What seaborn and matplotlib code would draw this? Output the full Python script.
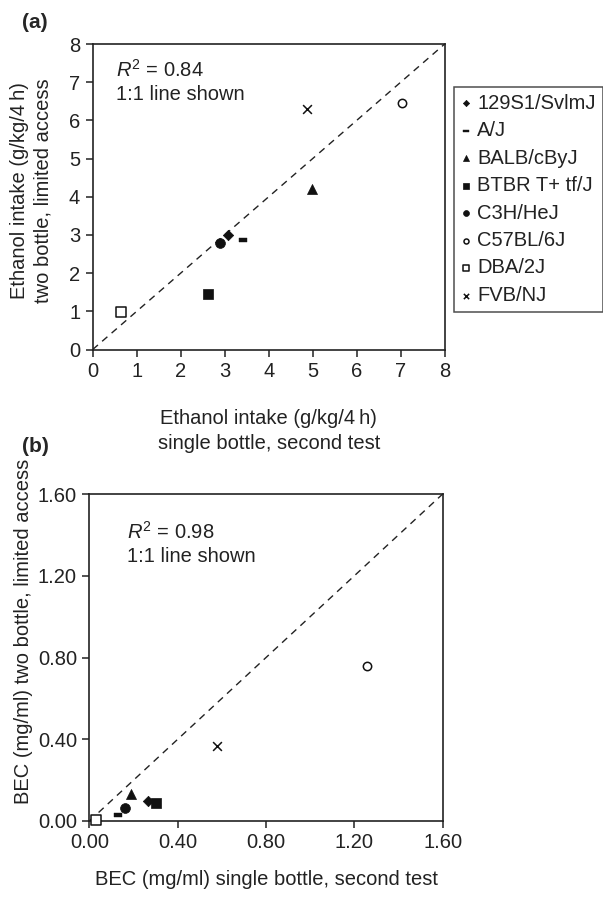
import matplotlib
matplotlib.use("Agg")
import matplotlib.pyplot as plt
import seaborn as sns
import pandas as pd
import numpy as np

# ---------------- data ----------------
strains = ["129S1/SvlmJ", "A/J", "BALB/cByJ", "BTBR T+ tf/J",
           "C3H/HeJ", "C57BL/6J", "DBA/2J", "FVB/NJ"]
# panel (a): ethanol intake (g/kg/4 h)
intake_single = [3.07, 3.42, 4.98, 2.62, 2.89, 7.02, 0.65, 4.86]
intake_two = [3.00, 2.87, 4.20, 1.45, 2.80, 6.46, 0.97, 6.30]
# panel (b): BEC (mg/ml)
bec_single = [0.264, 0.13, 0.19, 0.30, 0.163, 1.257, 0.03, 0.577]
bec_two = [0.098, 0.03, 0.13, 0.087, 0.065, 0.76, 0.005, 0.367]

ticks_a = [0, 1, 2, 3, 4, 5, 6, 7, 8]
ticks_b = [0.0, 0.4, 0.8, 1.2, 1.6]
r2_a = "0.84"
r2_b = "0.98"

# ---------------- style ----------------
sns.set_theme(style="ticks")
plt.rcParams['font.family'] = ['Liberation Sans', 'DejaVu Sans']
plt.rcParams['mathtext.fontset'] = 'custom'
plt.rcParams['mathtext.rm'] = 'Liberation Sans'
plt.rcParams['mathtext.it'] = 'Liberation Sans:italic'
plt.rcParams['axes.edgecolor'] = '#222222'
FS = 14.5

dash_marker = [(-1, -0.38), (1, -0.38), (1, 0.38), (-1, 0.38), (-1, -0.38)]
marker_style = {
    "129S1/SvlmJ": dict(marker="D", s=28, color="#111111", edgecolor="#111111", linewidth=0.5),
    "A/J": dict(marker=dash_marker, s=40, color="#111111", edgecolor="#111111", linewidth=0.3),
    "BALB/cByJ": dict(marker="^", s=52, color="#111111", edgecolor="#111111", linewidth=0.5),
    "BTBR T+ tf/J": dict(marker="s", s=44, color="#111111", edgecolor="#111111", linewidth=0.5),
    "C3H/HeJ": dict(marker="o", s=50, color="#111111", edgecolor="#111111", linewidth=0.5),
    "C57BL/6J": dict(marker="o", s=36, color="white", edgecolor="#111111", linewidth=1.1),
    "DBA/2J": dict(marker="s", s=44, color="white", edgecolor="#111111", linewidth=1.1),
    "FVB/NJ": dict(marker="x", s=40, color="#111111", linewidth=1.1),
}

df_a = pd.DataFrame({"strain": strains, "x": intake_single, "y": intake_two})
df_b = pd.DataFrame({"strain": strains, "x": bec_single, "y": bec_two})

W, H = 603, 900
fig = plt.figure(figsize=(W / 100, H / 100), dpi=100)
ax1 = fig.add_axes([92.7 / W, 1 - 349.5 / H, 352 / W, 305.5 / H])
ax2 = fig.add_axes([89.4 / W, 1 - 821 / H, 353.3 / W, 327 / H])


def draw(ax, df, lim):
    ax.plot([0, lim], [0, lim], linestyle=(0, (5, 4)), color="#222222", lw=1.0, zorder=1)
    for s in strains:
        sub = df[df["strain"] == s]
        sns.scatterplot(data=sub, x="x", y="y", ax=ax, label=s, zorder=3,
                        legend=False, clip_on=False, **marker_style[s])
    ax.set_xlim(0, lim)
    ax.set_ylim(0, lim)
    for sp in ax.spines.values():
        sp.set_visible(True)
        sp.set_linewidth(1.2)
    ax.tick_params(direction="out", length=5, width=1.1, labelsize=FS,
                   colors="#222222", pad=4)


draw(ax1, df_a, 8)
draw(ax2, df_b, 1.6)

ax1.set_xticks(ticks_a)
ax1.set_yticks(ticks_a)
ax1.set_xticklabels([str(t) for t in ticks_a])
ax1.set_yticklabels([str(t) for t in ticks_a])
ax2.set_xticks(ticks_b)
ax2.set_yticks(ticks_b)
ax2.set_xticklabels([f"{t:.2f}" for t in ticks_b])
ax2.set_yticklabels([f"{t:.2f}" for t in ticks_b])

ax1.set_xlabel("Ethanol intake (g/kg/4\u2009h)\nsingle bottle, second test",
               fontsize=FS, color="#222222", linespacing=1.38)
ax1.set_ylabel("Ethanol intake (g/kg/4\u2009h)\ntwo bottle, limited access",
               fontsize=FS, color="#222222", linespacing=1.3)
ax1.xaxis.set_label_coords(0.5, -0.195)
ax1.yaxis.set_label_coords(-0.115, 0.52)

ax2.set_xlabel("BEC (mg/ml) single bottle, second test", fontsize=FS, color="#222222")
ax2.set_ylabel("BEC (mg/ml) two bottle, limited access", fontsize=FS, color="#222222")
ax2.xaxis.set_label_coords(0.5, -0.15)
ax2.yaxis.set_label_coords(-0.16, 0.58)

ax1.text(116 / W, 1 - 70 / H, r"$R^2$ = " + r2_a, transform=fig.transFigure,
         fontsize=FS, va="center", ha="left", color="#222222")
ax1.text(116 / W, 1 - 95 / H, "1:1 line shown", transform=fig.transFigure,
         fontsize=FS, va="center", ha="left", color="#222222")
ax2.text(126.7 / W, 1 - 531.7 / H, r"$R^2$ = " + r2_b, transform=fig.transFigure,
         fontsize=FS, va="center", ha="left", color="#222222")
ax2.text(126.7 / W, 1 - 556.7 / H, "1:1 line shown", transform=fig.transFigure,
         fontsize=FS, va="center", ha="left", color="#222222")

fig.text(22 / W, 1 - 23 / H, "(a)", fontsize=15, fontweight="bold", va="center", ha="left")
fig.text(22 / W, 1 - 446 / H, "(b)", fontsize=15, fontweight="bold", va="center", ha="left")

handles, labels = ax1.get_legend_handles_labels()
leg = ax1.legend(handles, labels, loc="upper left",
                 bbox_to_anchor=(454 / W, 1 - 86.7 / H), bbox_transform=fig.transFigure,
                 fontsize=FS, frameon=True, fancybox=False, edgecolor="#222222",
                 markerscale=0.6, handlelength=0.5, handletextpad=0.3,
                 borderpad=0.35, labelspacing=0.42, borderaxespad=0)
leg.get_frame().set_linewidth(1.1)
for t in leg.get_texts():
    t.set_color("#222222")

fig.savefig("out.png", dpi=100)
